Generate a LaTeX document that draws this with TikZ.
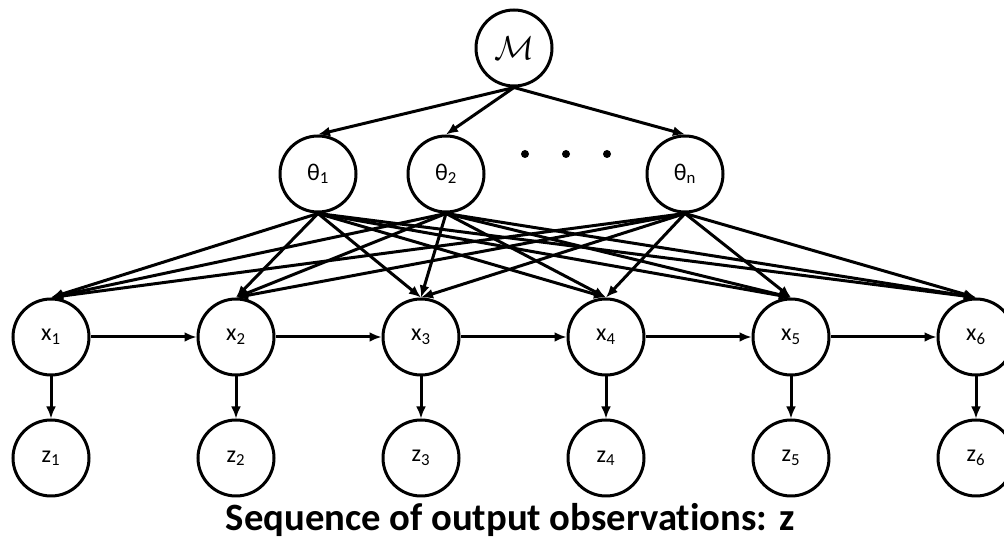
\documentclass[tikz,border=0pt]{standalone}
\usepackage{fontspec}
\setmainfont{Carlito}[Ligatures=NoCommon]
\usetikzlibrary{arrows.meta}
\usetikzlibrary{positioning}

\begin{document}
\begin{tikzpicture}[x=0.75pt,y=-0.75pt,line width=2.25pt,
    var/.style={draw,circle,minimum size=57pt,inner sep=0pt,font=\fontsize{18}{20}\selectfont},
    dot/.style={fill,circle,minimum size=6pt,inner sep=0pt},
    edge/.style={-{Latex[length=9pt,width=7.5pt]}},
    node distance=79.5pt]
    \useasboundingbox (0,0) rectangle (1004,548);

    % model and parameters
    \node[var,font=\fontsize{25}{28}\selectfont] (m) at (514,48) {$\mathcal{M}$};
    \node[var] (t1) at (318,174) {θ\textsubscript{1}};
    \node[var] (t2) at (446,174) {θ\textsubscript{2}};
    \node[var] (tn) at (685,174) {θ\textsubscript{n}};
    \node[dot] (d1) at (525,154) {};
    \node[dot] (d2) at (566,154) {};
    \node[dot] (d3) at (607,154) {};

    % hidden states
    \node[var] (x1) at (51,337) {x\textsubscript{1}};
    \node[var, right =of x1] (x2) {x\textsubscript{2}};
    \node[var, right =of x2] (x3) {x\textsubscript{3}};
    \node[var, right =of x3] (x4) {x\textsubscript{4}};
    \node[var, right =of x4] (x5) {x\textsubscript{5}};
    \node[var, right =of x5] (x6) {x\textsubscript{6}};

    % observations
    \foreach \i in {1,...,6}
        \node[var, below =31.5pt of x\i] (z\i) {z\textsubscript{\i}};

    \node[font=\fontsize{29}{32}\selectfont\bfseries] (title) at (510,520) {Sequence of output observations: z};

    \draw[edge] (m.south) -- (t1.north);
    \draw[edge] (m.south) -- (t2.north);
    \draw[edge] (m.south) -- (tn.north);

    \foreach \t in {t1,t2,tn}
        \foreach \i in {1,...,6}
            \draw[edge] (\t.south) -- (x\i.north);

    \foreach \i [evaluate=\i as \j using int(\i+1)] in {1,...,5}
        \draw[edge] (x\i) -- (x\j);

    \foreach \i in {1,...,6}
        \draw[edge] (x\i) -- (z\i);

\end{tikzpicture}
\end{document}
